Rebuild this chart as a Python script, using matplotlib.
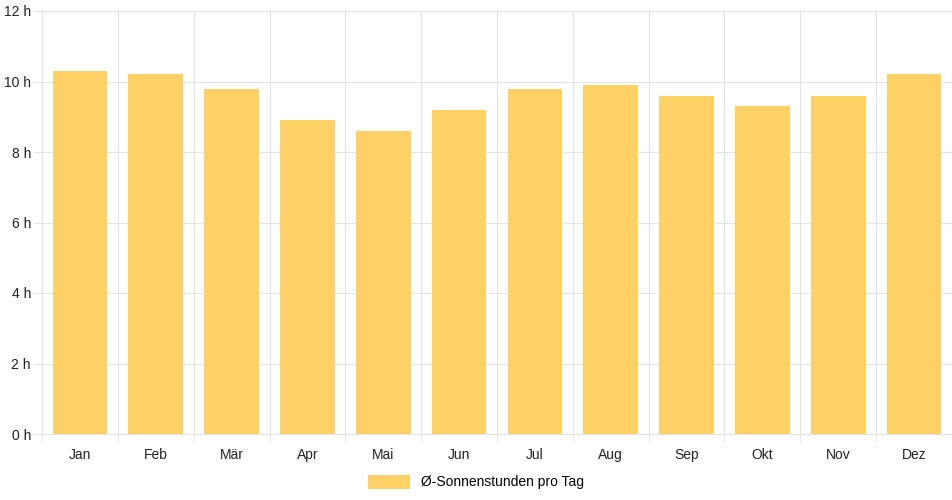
import matplotlib
matplotlib.use("Agg")
import matplotlib.pyplot as plt
import numpy as np

months = ["Jan","Feb","Mär","Apr","Mai","Jun","Jul","Aug","Sep","Okt","Nov","Dez"]
sun_hours = [10.3,10.2,9.8,8.9,8.6,9.2,9.8,9.9,9.6,9.3,9.6,10.2]
yticks = [0,2,4,6,8,10,12]

plt.rcParams["font.family"] = "Liberation Sans"
fig = plt.figure(figsize=(9.52,5.0), dpi=100)
ax = fig.add_axes([42/952, 66/500, 910/952, 423/500])
x = np.arange(len(months))
bars = ax.bar(x, sun_hours, width=0.72, color="#fdd166", label="Ø-Sonnenstunden pro Tag", zorder=2)
ax.set_xlim(-0.5, len(months)-0.5)
ax.set_ylim(0, 12)
ax.set_yticks(yticks)
ax.set_yticklabels([f"{v} h" for v in yticks], fontsize=10, color="#222")
ax.set_xticks(x)
ax.set_xticklabels(months, fontsize=10, color="#222")
ax.set_xticks(np.arange(-0.5, len(months)), minor=True)
ax.grid(True, which="major", axis="y", color="#e3e3e3", lw=0.8, zorder=0)
ax.grid(True, which="minor", axis="x", color="#e3e3e3", lw=0.8, zorder=0)
ax.tick_params(axis="x", which="major", length=0, pad=10)
ax.tick_params(axis="x", which="minor", length=6, color="#e3e3e3")
ax.tick_params(axis="y", length=6, color="#e3e3e3", pad=2)
for s in ["top","right"]:
    ax.spines[s].set_visible(False)
for s in ["left","bottom"]:
    ax.spines[s].set_color("#e3e3e3")
fig.legend(handles=[bars], loc="center", bbox_to_anchor=(0.5, 482/500*0+18/500), frameon=False,
           fontsize=10, handlelength=3, handleheight=1.2)
fig.savefig("out.png", dpi=100)
